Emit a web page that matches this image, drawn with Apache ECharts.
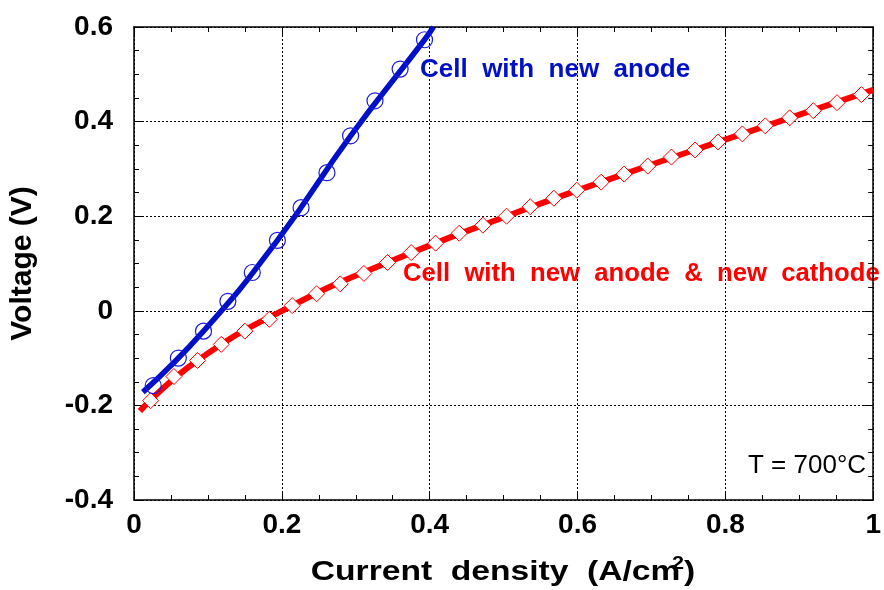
<!DOCTYPE html>
<html lang="en" style="height: 100%">
<head>
  <meta charset="utf-8" />
</head>
<body style="height: 100%; margin: 0; background: #fff">
  <div id="container" style="width: 884px; height: 590px"></div>
  <script src="https://cdn.jsdelivr.net/npm/echarts@6/dist/echarts.min.js"></script>
  <script>
    // anode cell (circles)
    var anodeX = [0.026, 0.060, 0.094, 0.127, 0.160, 0.194, 0.226, 0.261, 0.293, 0.326, 0.360, 0.393];
    var anodeV = [-0.158, -0.100, -0.043, 0.020, 0.081, 0.149, 0.218, 0.292, 0.370, 0.444, 0.511, 0.573];
    // fitted curve drawn through the circles
    var anodeFitX = [0.012, 0.094, 0.194, 0.293, 0.393, 0.405];
    var anodeFitV = [-0.172, -0.043, 0.149, 0.370, 0.573, 0.600];

    // anode + cathode cell (diamonds)
    var bothX = [0.0225, 0.054, 0.086, 0.118, 0.150, 0.183, 0.214, 0.247, 0.279, 0.311,
      0.343, 0.375, 0.408, 0.440, 0.472, 0.504, 0.536, 0.568, 0.599, 0.632,
      0.663, 0.695, 0.727, 0.759, 0.790, 0.823, 0.854, 0.887, 0.919, 0.951, 0.984];
    var bothV = [-0.190, -0.139, -0.105, -0.071, -0.043, -0.018, 0.011, 0.036, 0.057, 0.079,
      0.102, 0.123, 0.143, 0.164, 0.181, 0.200, 0.220, 0.238, 0.255, 0.272,
      0.289, 0.306, 0.325, 0.340, 0.357, 0.374, 0.391, 0.408, 0.423, 0.440, 0.457];
    var bothFitX = [0.008, 0.086, 0.214, 0.343, 0.504, 0.663, 0.823, 1.0];
    var bothFitV = [-0.212, -0.105, 0.011, 0.102, 0.200, 0.289, 0.374, 0.467];

    function zip(xs, ys) {
      return xs.map(function (x, i) { return [x, ys[i]]; });
    }

    var FONT = "'Liberation Sans', Arial, sans-serif";
    var chart = echarts.init(document.getElementById("container"), null, { renderer: "canvas" });

    var gridLine = { show: true, lineStyle: { color: "#000", width: 1, type: [2, 2] } };
    var boxLine = { show: true, onZero: false, lineStyle: { color: "#000", width: 1.5 } };
    var majorTick = { show: true, inside: true, length: 9, lineStyle: { color: "#000", width: 1 } };
    var minorTick = { show: true, splitNumber: 4, length: 5, lineStyle: { color: "#000", width: 1 } };
    var tickFont = { color: "#000", fontSize: 28, fontWeight: "bold", fontFamily: FONT };

    var option = {
      animation: false,
      grid: { left: 134, top: 27, right: 7, bottom: 90 },
      xAxis: [{
        type: "value", min: 0, max: 1, interval: 0.2,
        axisLine: boxLine, axisTick: majorTick, minorTick: minorTick,
        splitLine: gridLine,
        axisLabel: Object.assign({ margin: 11 }, tickFont)
      }, {
        type: "value", position: "top", min: 0, max: 1, interval: 0.2,
        axisLine: boxLine, axisTick: majorTick, minorTick: minorTick,
        splitLine: { show: false }, axisLabel: { show: false }
      }],
      yAxis: [{
        type: "value", min: -0.4, max: 0.6, interval: 0.2,
        axisLine: boxLine, axisTick: majorTick, minorTick: minorTick,
        splitLine: gridLine,
        axisLabel: Object.assign({ margin: 21 }, tickFont),
        name: "Voltage (V)", nameLocation: "middle", nameGap: 96,
        nameTextStyle: { fontSize: 30, fontWeight: "bold", fontFamily: FONT, color: "#000" }
      }, {
        type: "value", position: "right", min: -0.4, max: 0.6, interval: 0.2,
        axisLine: boxLine, axisTick: majorTick, minorTick: minorTick,
        splitLine: { show: false }, axisLabel: { show: false }
      }],
      series: [
        {
          type: "line", smooth: 0.5, showSymbol: false, z: 2,
          data: zip(bothFitX, bothFitV),
          lineStyle: { color: "#ff0000", width: 6 }
        },
        {
          type: "scatter", symbol: "diamond", symbolSize: 16, z: 3,
          data: zip(bothX, bothV),
          itemStyle: { color: "#fff", borderColor: "#ff0000", borderWidth: 1, opacity: 1 }
        },
        {
          type: "line", smooth: 0.5, showSymbol: false, z: 4,
          data: zip(anodeFitX, anodeFitV),
          lineStyle: { color: "#0010c8", width: 5.5 }
        },
        {
          type: "scatter", symbol: "circle", symbolSize: 16, z: 5,
          data: zip(anodeX, anodeV),
          itemStyle: { color: "rgba(0,0,0,0)", borderColor: "#1a1ae0", borderWidth: 1.2, opacity: 1 }
        }
      ],
      graphic: [
        {
          type: "text", left: 420, top: 57,
          style: { text: "Cell  with  new  anode", fill: "#0010c8", font: "bold 26px " + FONT }
        },
        {
          type: "text", left: 403, top: 261,
          style: { text: "Cell  with  new  anode  &  new  cathode", fill: "#ff0000", font: "bold 25.7px " + FONT }
        },
        {
          type: "text", left: 748, top: 453,
          style: { text: "T = 700°C", fill: "#000", font: "26px " + FONT }
        },
        {
          type: "text", x: 503, y: 572, scaleX: 1.2,
          style: {
            text: "{t|Current  density  (A/cm}{s|2}{t|)}",
            align: "center", verticalAlign: "middle",
            rich: {
              t: { fontSize: 28, fontWeight: "bold", fontFamily: FONT, fill: "#000" },
              s: { fontSize: 18, fontWeight: "bold", fontFamily: FONT, fill: "#000", padding: [0, 0, 16, -7] }
            }
          }
        }
      ]
    };
    chart.setOption(option);
  </script>
</body>
</html>
